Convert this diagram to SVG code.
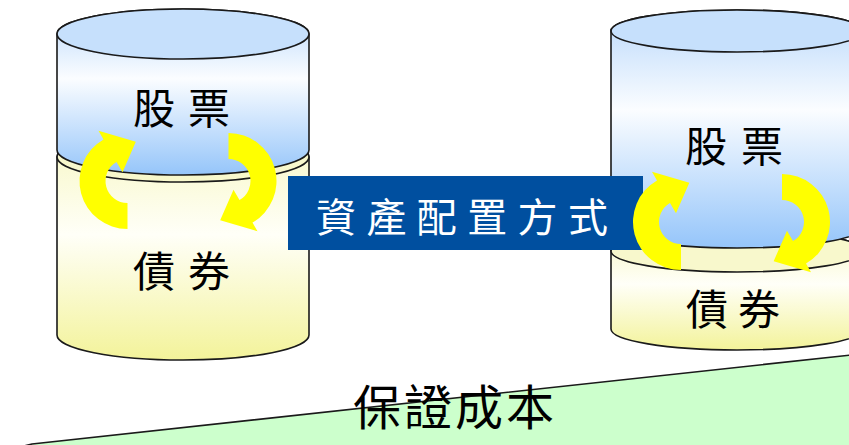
<svg xmlns="http://www.w3.org/2000/svg" width="849" height="445" viewBox="0 0 849 445">
  <defs>
    <style>
      .edge { stroke: #1a1a1a; stroke-width: 1.6; }
      .label { font-family: "Noto Sans CJK TC", "Noto Sans CJK SC", sans-serif; font-size: 42px; fill: #000; }
      .title { font-family: "Noto Sans CJK TC", "Noto Sans CJK SC", sans-serif; font-size: 40px; fill: #fff; letter-spacing: 10.4px; }
      .ground-label { font-family: "Noto Sans CJK TC", "Noto Sans CJK SC", sans-serif; font-size: 48px; fill: #000; letter-spacing: 3px; }
      .cycle { fill: #ffff00; }
    </style>
    <!-- stock body: light blue, pale in the upper middle, deeper blue at the base -->
    <linearGradient id="stockFill" x1="0" y1="0" x2="0" y2="1">
      <stop offset="0" stop-color="#b9d8fb"/>
      <stop offset="0.42" stop-color="#fbfdff"/>
      <stop offset="1" stop-color="#95c5fa"/>
    </linearGradient>
    <!-- bond body: pale yellow fading to white, then yellow at the base -->
    <linearGradient id="bondFill" x1="0" y1="0" x2="0" y2="1">
      <stop offset="0" stop-color="#f7f7c2"/>
      <stop offset="0.45" stop-color="#fffff8"/>
      <stop offset="1" stop-color="#f3f39a"/>
    </linearGradient>
    <!-- one curved arrow, centred on its own arc centre -->
    <path id="cycleArc" class="cycle"
          d="M 0,48 A 48 48 0 0 1 -24,-41.57 L -29,-50.23 L 8.32,-39.13 L -5,-8.66 L -11,-19.05 A 22 22 0 0 0 0,22 Z"/>
    <g id="cyclePair">
      <use href="#cycleArc" transform="translate(-50.5,0)"/>
      <use href="#cycleArc" transform="translate(50.5,0) rotate(180)"/>
    </g>
  </defs>

  <rect width="849" height="445" fill="#ffffff"/>

  <!-- left stack: bonds below, stocks above -->
  <g id="stack-left">
    <g id="bonds-left">
      <path class="edge" fill="url(#bondFill)" d="M 57,157 V 335 A 126 25 0 0 0 309,335 V 157 A 126 25 0 0 0 57,157 Z"/>
      <ellipse class="edge" cx="183" cy="157" rx="126" ry="25" fill="#f8f8cc"/>
      <text class="label" x="133 188" y="287">債券</text>
    </g>
    <g id="stocks-left">
      <path class="edge" fill="url(#stockFill)" d="M 57,34 V 150 A 126 25 0 0 0 309,150 V 34 A 126 25 0 0 0 57,34 Z"/>
      <ellipse class="edge" cx="183" cy="34" rx="126" ry="25" fill="#c6e0fc"/>
      <text class="label" x="133 188" y="124">股票</text>
    </g>
  </g>

  <!-- right stack: bigger stock share, smaller bond share -->
  <g id="stack-right">
    <g id="bonds-right">
      <path class="edge" fill="url(#bondFill)" d="M 611,251 V 329 A 126 21 0 0 0 863,329 V 251 A 126 21 0 0 0 611,251 Z"/>
      <ellipse class="edge" cx="737" cy="251" rx="126" ry="21" fill="#f8f8cc"/>
      <text class="label" x="686 738" y="325">債券</text>
    </g>
    <g id="stocks-right">
      <path class="edge" fill="url(#stockFill)" d="M 611,31 V 227 A 126 21 0 0 0 863,227 V 31 A 126 21 0 0 0 611,31 Z"/>
      <ellipse class="edge" cx="737" cy="31" rx="126" ry="21" fill="#c6e0fc"/>
      <text class="label" x="685 741" y="162">股票</text>
    </g>
  </g>

  <!-- banner -->
  <g id="allocation">
    <rect x="288" y="176" width="355" height="74" fill="#004f9f"/>
    <text class="title" x="316" y="232">資產配置方式</text>
  </g>

  <!-- rebalancing arrows -->
  <g id="connectors">
    <use href="#cyclePair" transform="translate(178,181)"/>
    <use href="#cyclePair" transform="translate(731.5,222)"/>
  </g>

  <!-- sloped floor -->
  <g id="guarantee">
    <polygon class="edge" fill="#ccffcc" points="32,444 851,355 851,447 20,447"/>
    <text class="ground-label" x="353" y="425">保證成本</text>
  </g>
</svg>
